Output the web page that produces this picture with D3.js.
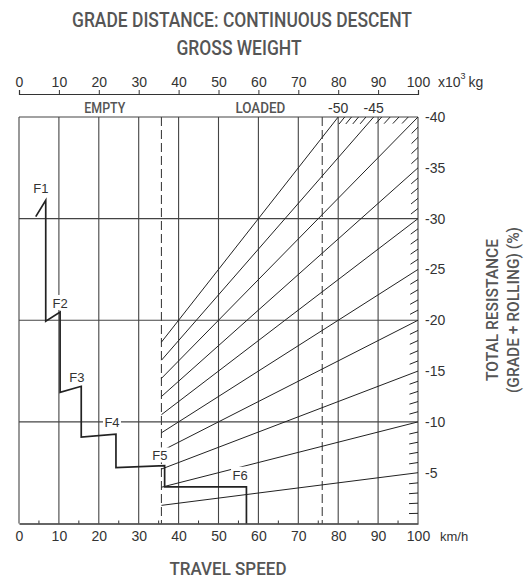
<!DOCTYPE html>
<html>
<head>
<meta charset="utf-8">
<script src="https://cdn.jsdelivr.net/npm/d3@7"></script>
<style>
  body { margin: 0; background: #fff; }
  svg { display: block; }
  .num { font-family: "Liberation Sans", Arial, sans-serif; fill: #333; }
  .cond { font-family: Roboto, "Noto Sans", sans-serif; font-weight: 500; fill: #555; }
</style>
</head>
<body>
<div id="chartArea"><svg id="chart"></svg></div>
<script>
// axis ticks
const speedTicks = [0, 10, 20, 30, 40, 50, 60, 70, 80, 90, 100]
const speedMinor = [5, 15, 25, 35, 45, 55, 65, 75, 85, 95]
const weightTicks = [0, 10, 20, 30, 40, 50, 60, 70, 80, 90, 100]
const resistTicks = [-40, -35, -30, -25, -20, -15, -10, -5]
const resistGrid = [-10, -20, -30]

// gross weights (x10^3 kg)
const emptyWeight = 35.7
const loadedWeight = 76

// total resistance lines (%)
const fanResist = [5, 10, 15, 20, 25, 30, 35, 40, 45, 50]
const hatchResist = [1, 2, 3, 4, 6, 7, 8, 9, 11, 12, 13, 14, 16, 17, 18, 19, 21, 22, 23, 24,
                     26, 27, 28, 29, 31, 32, 33, 34, 36, 37, 38, 39, 41, 42, 43, 44, 46, 47, 48, 49]
const topResistLabels = [-50, -45]

// retarder curve (speed km/h, resistance %)
const curveSpeed  = [4.2, 6.7, 6.7, 10.3, 10.3, 15.6, 15.6, 24.3, 24.3, 36.5, 36.5, 57, 57]
const curveResist = [-30.2, -31.8, -19.9, -20.8, -12.9, -13.5, -8.5, -8.8, -5.5, -5.7, -3.6, -3.6, 0]

const gears = ['F1', 'F2', 'F3', 'F4', 'F5', 'F6']
const gearSpeed = [5.5, 10.3, 14.5, 23.3, 35.3, 55.4]
const gearResist = [-33, -21.7, -14.4, -10, -6.7, -4.8]

const W = 532, H = 585
const svg = d3.select('#chart').attr('width', W).attr('height', H)

const x = d3.scaleLinear().domain([0, 100]).range([19, 418])
const y = d3.scaleLinear().domain([-40, 0]).range([117, 523.5])
const topY = 94

const ink = '#333'

// titles
svg.append('text').attr('class', 'cond')
  .attr('x', 242).attr('y', 27).attr('text-anchor', 'middle')
  .attr('font-size', 20).attr('textLength', 340).attr('lengthAdjust', 'spacingAndGlyphs')
  .text('GRADE DISTANCE: CONTINUOUS DESCENT')
svg.append('text').attr('class', 'cond')
  .attr('x', 239).attr('y', 55).attr('text-anchor', 'middle')
  .attr('font-size', 20).attr('textLength', 125).attr('lengthAdjust', 'spacingAndGlyphs')
  .text('GROSS WEIGHT')
svg.append('text').attr('class', 'cond')
  .attr('x', 228).attr('y', 575).attr('text-anchor', 'middle')
  .attr('font-size', 18).attr('textLength', 117).attr('lengthAdjust', 'spacingAndGlyphs')
  .text('TRAVEL SPEED')

// top weight axis
const topAxis = d3.axisTop(x).tickValues(weightTicks).tickSize(4).tickPadding(3).tickFormat(d3.format('d'))
const gTop = svg.append('g').attr('transform', `translate(0,${topY})`).call(topAxis)
gTop.select('.domain').attr('stroke', ink).attr('stroke-width', 1.2)
gTop.selectAll('.tick line').attr('stroke', ink)
gTop.selectAll('.tick text').attr('class', 'num').attr('font-size', 14).attr('fill', ink)

const unit = svg.append('text').attr('class', 'num').attr('x', 438).attr('y', 87).attr('font-size', 14)
unit.append('tspan').text('x10')
unit.append('tspan').attr('dy', -8).attr('font-size', 9).text('3')
unit.append('tspan').attr('dy', 8).attr('dx', 3).text('kg')

svg.append('text').attr('class', 'cond').attr('x', x(21.5)).attr('y', 113)
  .attr('text-anchor', 'middle').attr('font-size', 14).attr('fill', '#444')
  .attr('textLength', 41).attr('lengthAdjust', 'spacingAndGlyphs').text('EMPTY')
svg.append('text').attr('class', 'cond').attr('x', x(60.5)).attr('y', 113)
  .attr('text-anchor', 'middle').attr('font-size', 14).attr('fill', '#444')
  .attr('textLength', 50).attr('lengthAdjust', 'spacingAndGlyphs').text('LOADED')

svg.selectAll('.toplab').data(topResistLabels).join('text')
  .attr('class', 'num').attr('font-size', 14)
  .attr('x', d => x(Math.min(100, 4000 / -d))).attr('y', 113).attr('text-anchor', 'middle')
  .text(d => d)

// grid
const grid = svg.append('g').attr('stroke', '#444').attr('stroke-width', 1.1)
grid.selectAll('.vg').data(speedTicks).join('line')
  .attr('x1', d => x(d)).attr('x2', d => x(d)).attr('y1', y(-40)).attr('y2', y(0))
grid.selectAll('.hg').data(resistGrid.concat([-40])).join('line')
  .attr('x1', x(0)).attr('x2', x(100)).attr('y1', d => y(d)).attr('y2', d => y(d))

// weight dashed lines
svg.selectAll('.dash').data([emptyWeight, loadedWeight]).join('line')
  .attr('x1', d => x(d)).attr('x2', d => x(d)).attr('y1', y(-40)).attr('y2', y(0))
  .attr('stroke', '#444').attr('stroke-width', 1.1).attr('stroke-dasharray', '9,4')

// resistance fan lines, through the origin
const endX = r => Math.min(100, 4000 / r)
svg.append('g').selectAll('line').data(fanResist).join('line')
  .attr('x1', x(emptyWeight)).attr('y1', r => y(-r * emptyWeight / 100))
  .attr('x2', r => x(endX(r))).attr('y2', r => y(-r * endX(r) / 100))
  .attr('stroke', '#222').attr('stroke-width', 1)

// short hatch strokes at the border
const hatchLen = 9
svg.append('g').selectAll('line').data(hatchResist).join('line')
  .each(function (r) {
    const ex = x(endX(r)), ey = y(-r * endX(r) / 100)
    const ox = x(0), oy = y(0)
    const dx = ox - ex, dy = oy - ey, len = Math.hypot(dx, dy)
    d3.select(this)
      .attr('x1', ex).attr('y1', ey)
      .attr('x2', ex + dx / len * hatchLen).attr('y2', ey + dy / len * hatchLen)
  })
  .attr('stroke', '#222').attr('stroke-width', 1)

// right resistance labels
svg.selectAll('.rlab').data(resistTicks).join('text')
  .attr('class', 'num').attr('font-size', 14)
  .attr('x', x(100) + 7).attr('y', d => y(d) + 5).text(d => d)

// bottom speed axis
const botAxis = d3.axisBottom(x).tickValues(speedTicks).tickSize(0).tickPadding(8).tickFormat(d3.format('d'))
const gBot = svg.append('g').attr('transform', `translate(0,${y(0)})`).call(botAxis)
gBot.select('.domain').attr('stroke', ink).attr('stroke-width', 1.4)
gBot.selectAll('.tick text').attr('class', 'num').attr('font-size', 14).attr('fill', ink)
svg.append('g').selectAll('line').data(speedMinor).join('line')
  .attr('x1', d => x(d)).attr('x2', d => x(d)).attr('y1', y(0)).attr('y2', y(0) - 3)
  .attr('stroke', ink)
svg.append('text').attr('class', 'num').attr('x', 440).attr('y', 541).attr('font-size', 13).text('km/h')

// right title
const rt = svg.append('g').attr('transform', 'translate(498,310) rotate(-90)')
rt.append('text').attr('class', 'cond').attr('text-anchor', 'middle').attr('font-size', 17)
  .attr('textLength', 142).attr('lengthAdjust', 'spacingAndGlyphs').text('TOTAL RESISTANCE')
rt.append('text').attr('class', 'cond').attr('text-anchor', 'middle').attr('font-size', 17)
  .attr('y', 21).attr('textLength', 166).attr('lengthAdjust', 'spacingAndGlyphs').text('(GRADE + ROLLING) (%)')

// retarder curve
const curve = curveSpeed.map((s, i) => [s, curveResist[i]])
svg.append('path').datum(curve)
  .attr('d', d3.line().x(d => x(d[0])).y(d => y(d[1])))
  .attr('fill', 'none').attr('stroke', '#222').attr('stroke-width', 1.7)

// gear labels
const gl = svg.append('g').selectAll('g').data(gears).join('g')
  .attr('transform', (d, i) => `translate(${x(gearSpeed[i])},${y(gearResist[i])})`)
gl.append('rect').attr('x', -9).attr('y', -8).attr('width', 18).attr('height', 15).attr('fill', '#fff')
gl.append('text').attr('class', 'num').attr('font-size', 13).attr('text-anchor', 'middle')
  .attr('y', 5).text(d => d)
</script>
</body>
</html>
